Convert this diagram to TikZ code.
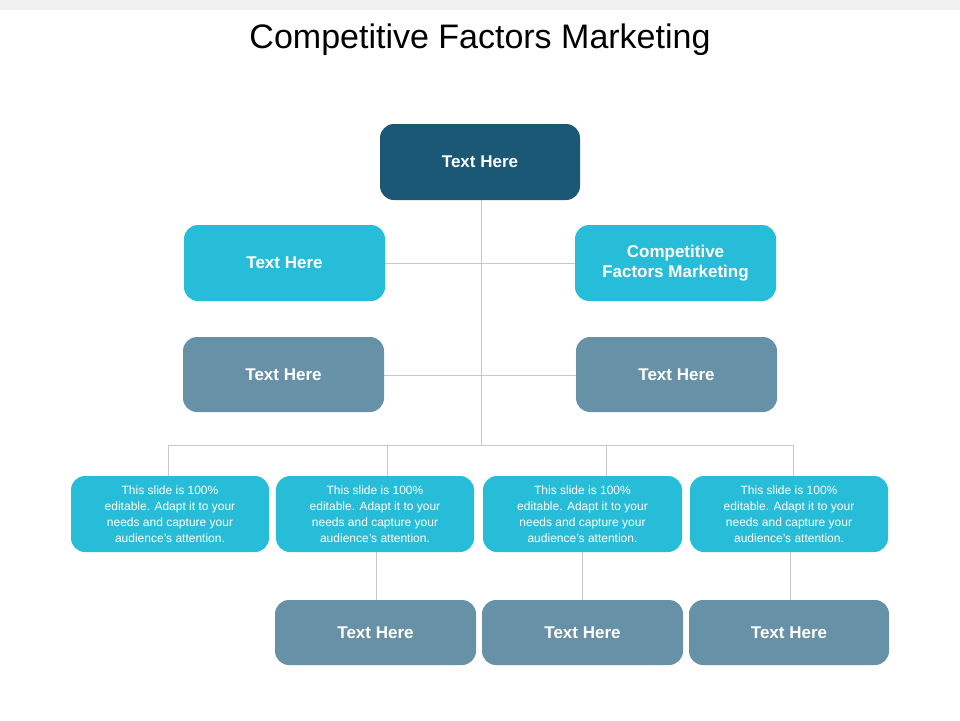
\documentclass[tikz,border=0pt]{standalone}
\usepackage{fontspec}
\setmainfont{Liberation Sans}
\definecolor{dk}{HTML}{1A5876}
\definecolor{cy}{HTML}{27BDD9}
\definecolor{gb}{HTML}{6691A6}
\definecolor{ln}{HTML}{C8C8C8}
\begin{document}
\begin{tikzpicture}[x=1pt,y=-1pt,
 bx/.style={rounded corners=14pt,text=white,align=center,inner sep=0pt},
 big/.style={font=\fontsize{17}{20}\selectfont\bfseries},
 sm/.style={font=\fontsize{12}{16}\selectfont},
 con/.style={draw=ln,line width=1pt}]
\useasboundingbox (0,0) rectangle (960,720);
\fill[white] (0,0) rectangle (960,720);
\fill[black!6] (0,0) rectangle (960,10);
\node (title) at (480,40) {\fontsize{34}{40}\selectfont Competitive Factors Marketing};
\newcommand\bxx[7]{\fill[#6,rounded corners=14pt] (#2,#3) rectangle (#4,#5);
 \node[bx,#7] (#1) at ({(#2+#4)/2},{(#3+#5)/2}) {};}
% lines first
\coordinate (vt) at (481,200); \coordinate (vb) at (481,445);
\draw[con] (vt) -- (vb);
\coordinate (h1l) at (385,263); \coordinate (h1r) at (575,263);
\draw[con] (h1l) -- (h1r);
\coordinate (h2l) at (384,375); \coordinate (h2r) at (576,375);
\draw[con] (h2l) -- (h2r);
\coordinate (ha) at (168,445); \coordinate (hb) at (387,445); \coordinate (hc) at (606,445); \coordinate (hd) at (793,445);
\draw[con] (ha) -- (hd);
\coordinate (ta) at (168,476); \coordinate (tb) at (387,476); \coordinate (tc) at (606,476); \coordinate (td) at (793,476);
\draw[con] (ha)--(ta) (hb)--(tb) (hc)--(tc) (hd)--(td);
\coordinate (u1) at (376,552); \coordinate (d1) at (376,600);
\coordinate (u2) at (582,552); \coordinate (d2) at (582,600);
\coordinate (u3) at (790,552); \coordinate (d3) at (790,600);
\draw[con] (u1)--(d1) (u2)--(d2) (u3)--(d3);
% boxes
\fill[dk,rounded corners=14pt] (380,124) rectangle (580,200);
\node[bx,big] (top) at (480,162) {Text Here};
\fill[cy,rounded corners=14pt] (184,225) rectangle (385,301);
\node[bx,big] (l1) at (284.5,263) {Text Here};
\fill[cy,rounded corners=14pt] (575,225) rectangle (776,301);
\node[bx,big] (r1) at (675.5,263) {Competitive\\Factors Marketing};
\fill[gb,rounded corners=14pt] (183,337) rectangle (384,412);
\node[bx,big] (l2) at (283.5,375) {Text Here};
\fill[gb,rounded corners=14pt] (576,337) rectangle (777,412);
\node[bx,big] (r2) at (676.5,375) {Text Here};
\foreach \a/\b/\n in {71/269/a,276/474/b,483/682/c,690/888/d}{
 \fill[cy,rounded corners=14pt] (\a,476) rectangle (\b,552);
 \node[bx,sm] (s\n) at ({(\a+\b)/2},514) {This slide is 100\%\\editable. Adapt it to your\\needs and capture your\\audience's attention.};}
\foreach \a/\b/\n in {275/476/a,482/683/b,689/889/c}{
 \fill[gb,rounded corners=14pt] (\a,600) rectangle (\b,665);
 \node[bx,big] (b\n) at ({(\a+\b)/2},632.5) {Text Here};}
\end{tikzpicture}
\end{document}
